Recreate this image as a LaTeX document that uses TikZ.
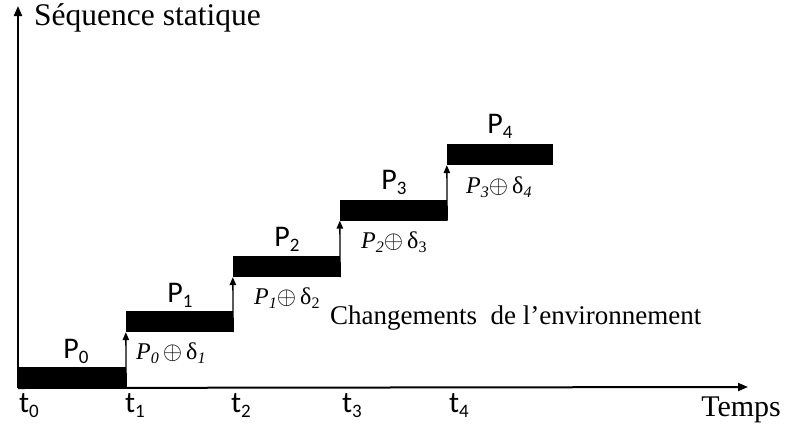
\documentclass[tikz,border=0pt]{standalone}
\usepackage{fontspec}
\setmainfont{Liberation Serif}
\newfontfamily\calib{Carlito}
\usetikzlibrary{arrows.meta}
\newcommand\dnsub[3]{\raisebox{-#1}{\fontsize{#2}{#2}\selectfont #3}}
\newcommand\myoplus{{\fontsize{28}{28}\selectfont$\oplus$}}
\tikzset{
  bar/.style={draw=none, fill=black, inner sep=0pt, minimum height=21pt},
  axis/.style={line width=2pt, -{Triangle[length=10pt,width=8pt]}},
  jump/.style={line width=1.3pt, -{Triangle[length=8pt,width=6.5pt]}},
  plab/.style={font=\calib\fontsize{30}{30}\selectfont, inner sep=0pt},
  tlab/.style={font=\calib\fontsize{30}{30}\selectfont, inner sep=0pt},
  flab/.style={font=\fontsize{24}{24}\selectfont, inner sep=0pt, anchor=west},
  txt/.style={font=\fontsize{27}{27}\selectfont, inner sep=0pt}
}
\begin{document}
\begin{tikzpicture}[x=1pt,y=-1pt]
\useasboundingbox (0,0) rectangle (786,429);
% axes
\coordinate (O) at (18,388);
\coordinate (ytop) at (18,6);
\coordinate (xend) at (748,387);
\draw[axis] (O) -- (ytop);
\draw[axis] (O) -- (xend);
% bars
\node[bar, minimum width=108pt, minimum height=20pt] (b0) at (72,377) {};
\node[bar, minimum width=107pt] (b1) at (179.5,321.5) {};
\node[bar, minimum width=107pt] (b2) at (286.5,266.5) {};
\node[bar, minimum width=107pt] (b3) at (393.5,210) {};
\node[bar, minimum width=106pt] (b4) at (500,154.5) {};
% jumps
\draw[jump] (b0.south east) -- (b1.south west);
\draw[jump] (b1.south east) -- (b2.south west);
\draw[jump] (b2.south east) -- (b3.south west);
\draw[jump] (b3.south east) -- (b4.south west);
% P labels
\node[plab] (p0) at (76,351) {P\dnsub{5pt}{19}{0}};
\node[plab] (p1) at (180,295) {P\dnsub{5pt}{19}{1}};
\node[plab] (p2) at (287,239) {P\dnsub{5pt}{19}{2}};
\node[plab] (p3) at (394,182) {P\dnsub{5pt}{19}{3}};
\node[plab] (p4) at (500,126) {P\dnsub{5pt}{19}{4}};
% formula labels
\node[flab] (f1) at (136,353) {\textit{P\dnsub{4pt}{16}{0}}\hspace{4pt}\myoplus\hspace{4pt}δ\dnsub{4pt}{16}{\textit{1}}};
\node[flab] (f2) at (254,298) {\textit{P\dnsub{4pt}{16}{1}}\myoplus\hspace{4pt}δ\dnsub{4pt}{16}{2}};
\node[flab] (f3) at (361,242) {\textit{P\dnsub{4pt}{16}{2}}\myoplus\hspace{4pt}δ\dnsub{4pt}{16}{3}};
\node[flab] (f4) at (466,187) {\textit{P\dnsub{4pt}{16}{3}}\myoplus\hspace{4pt}δ\dnsub{4pt}{16}{\textit{4}}};
% t labels
\node[tlab] (t0) at (29,406) {t\dnsub{5pt}{19}{0}};
\node[tlab] (t1) at (135,406) {t\dnsub{5pt}{19}{1}};
\node[tlab] (t2) at (241,406) {t\dnsub{5pt}{19}{2}};
\node[tlab] (t3) at (352,406) {t\dnsub{5pt}{19}{3}};
\node[tlab] (t4) at (459,406) {t\dnsub{5pt}{19}{4}};
% texts
\node[txt, font=\fontsize{31.5}{31.5}\selectfont, anchor=west] (seq) at (34,18) {Séquence statique};
\node[txt, font=\fontsize{30}{30}\selectfont, anchor=east] (temps) at (781,410) {Temps};
\node[txt, anchor=west] (chg) at (330,318) {Changements\ \ de l’environnement};
\end{tikzpicture}
\end{document}
